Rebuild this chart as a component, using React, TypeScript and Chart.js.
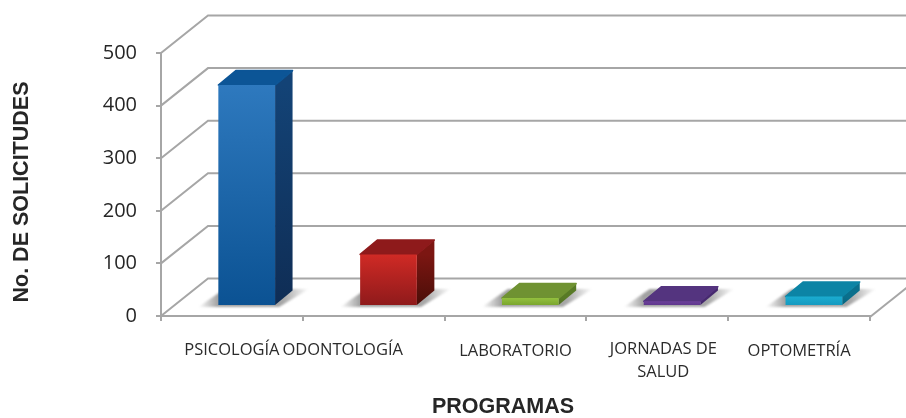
import React, { useEffect, useRef } from "react";
import { Chart, registerables } from "chart.js";

Chart.register(...registerables);

const categories: (string | string[])[] = ["PSICOLOGÍA", "ODONTOLOGÍA", "LABORATORIO", ["JORNADAS DE", "SALUD"], "OPTOMETRÍA"];
const solicitudes = [420, 98, 15, 9, 18];
const frontTop = ["#2e79be", "#d02a25", "#93c03e", "#6d419b", "#1bacd0"];
const frontBottom = ["#0b5293", "#8f1a1b", "#7ba62e", "#5f378d", "#159ac0"];
const topColors = ["#0c5596", "#8e1a1b", "#6f9232", "#54347f", "#0c84a5"];
const sideTop = ["#134376", "#7c1612", "#587a26", "#46296f", "#0a6f8c"];
const sideBottom = ["#0f2d55", "#4a0e08", "#4f6e20", "#402567", "#07647f"];

const xLabelShift = [0, -31, 0, 6, 0];
const xLabelDrop = [0, 0, 1, -1, 1];
const GRID = "#a6a6a6";
const WALL_DX = 47;
const WALL_DY = -37.5;
const BAR_DX = 14.8;
const BAR_DY = -10;
const DEPTH_DX = 17.5;
const DEPTH_DY = -14.5;
const FLOOR_TOP = 288;

const poly = (ctx: CanvasRenderingContext2D, pts: number[][], fill: string | CanvasGradient) => {
  ctx.beginPath();
  pts.forEach((p, i) => (i ? ctx.lineTo(p[0], p[1]) : ctx.moveTo(p[0], p[1])));
  ctx.closePath();
  ctx.fillStyle = fill;
  ctx.fill();
  if (typeof fill === "string") {
    ctx.strokeStyle = fill;
    ctx.lineWidth = 1.5;
    ctx.lineJoin = "round";
    ctx.stroke();
  }
};

const shiftTitle = (scale: any, dx: number, dy: number) => {
  if (scale.__shifted) return;
  scale.__shifted = true;
  const orig = scale.drawTitle.bind(scale);
  scale.drawTitle = (...args: any[]) => {
    const c = scale.ctx;
    c.save();
    c.translate(dx, dy);
    orig(...args);
    c.restore();
  };
};

const scene3d = {
  id: "scene3d",
  beforeDraw(chart: any) {
    const xs = chart.scales.x;
    shiftTitle(xs, -12.5, 2);
    shiftTitle(chart.scales.y, 9, 7.5);
    const items = xs.getLabelItems(chart.chartArea);
    items.forEach((it: any, i: number) => {
      if (it.__moved) return;
      it.__moved = true;
      it.options.translation[0] += xLabelShift[i];
      it.options.translation[1] += xLabelDrop[i];
    });
  },
  beforeDatasetsDraw(chart: any) {
    const { ctx, scales, width } = chart;
    const { x, y } = scales;
    ctx.save();
    ctx.strokeStyle = GRID;
    ctx.lineWidth = 2;
    y.ticks.forEach((t: any) => {
      const py = y.getPixelForValue(t.value);
      const bx = x.left + WALL_DX;
      const by = py + WALL_DY;
      ctx.beginPath();
      ctx.moveTo(x.left, py);
      ctx.lineTo(bx, by);
      ctx.lineTo(width, by);
      ctx.stroke();
    });
    const fy = y.getPixelForValue(0) + 1;
    ctx.beginPath();
    ctx.moveTo(x.right, fy);
    ctx.lineTo(x.right + WALL_DX, fy + WALL_DY);
    ctx.stroke();
    ctx.restore();
  },
  beforeDatasetDraw(chart: any, args: any) {
    const { ctx } = chart;
    const meta = chart.getDatasetMeta(args.index);
    ctx.save();
    meta.data.forEach((b: any, i: number) => {
      const half = b.width / 2;
      const l = b.x - half + BAR_DX;
      const r = b.x + half + BAR_DX;
      const bot = b.base + BAR_DY;
      const top = b.y + BAR_DY;
      // floor shadow
      const sg = ctx.createLinearGradient(l - 20, 0, r + 34, 0);
      const span = r + 34 - (l - 20);
      sg.addColorStop(0, "rgba(120,120,120,0)");
      sg.addColorStop(20 / span, "rgba(120,120,120,0.7)");
      sg.addColorStop((span - 26) / span, "rgba(120,120,120,0.65)");
      sg.addColorStop(1, "rgba(120,120,120,0)");
      ctx.save();
      ctx.filter = "blur(1.2px)";
      poly(ctx, [[l - 20, bot + 2], [r + 4, bot + 2], [r + 34, FLOOR_TOP + 1], [l + 6, FLOOR_TOP + 1]], sg);
      ctx.restore();
      // right side
      const sd = ctx.createLinearGradient(0, top, 0, bot);
      sd.addColorStop(0, sideTop[i]);
      sd.addColorStop(1, sideBottom[i]);
      poly(ctx, [[r, bot], [r, top], [r + DEPTH_DX, top + DEPTH_DY], [r + DEPTH_DX, bot + DEPTH_DY]], sd);
      // top
      poly(ctx, [[l, top], [l + DEPTH_DX, top + DEPTH_DY], [r + DEPTH_DX, top + DEPTH_DY], [r, top]], topColors[i]);
      // front face gradient: the bar element itself draws it
      const fg = ctx.createLinearGradient(0, b.y, 0, b.base);
      fg.addColorStop(0, frontTop[i]);
      fg.addColorStop(1, frontBottom[i]);
      b.options.backgroundColor = fg;
    });
    ctx.translate(BAR_DX, BAR_DY);
  },
  afterDatasetDraw(chart: any) {
    chart.ctx.restore();
  },
};

export default function App() {
  const ref = useRef<HTMLCanvasElement>(null);
  useEffect(() => {
    const chart = new Chart(ref.current!, {
      type: "bar",
      data: {
        labels: categories as any,
        datasets: [
          {
            label: "No. DE SOLICITUDES",
            data: solicitudes,
            barPercentage: 0.4,
            categoryPercentage: 1,
            clip: false as any,
            borderWidth: 0,
            backgroundColor: frontTop,
          },
        ],
      },
      plugins: [scene3d as any],
      options: {
        animation: false,
        responsive: false,
        layout: { padding: { top: 53, right: 36, left: 0, bottom: 0 } },
        plugins: { legend: { display: false }, tooltip: { enabled: false } },
        scales: {
          x: {
            afterFit: (s: any) => { s.height = 102; },
            grid: { offset: true, drawOnChartArea: false, color: GRID, lineWidth: 2, tickLength: 5 },
            border: { color: GRID, width: 2 },
            ticks: {
              autoSkip: false,
              maxRotation: 0,
              minRotation: 0,
              padding: 18,
              color: "#2b2b2b",
              font: { family: "'Open Sans'", size: 16.5, lineHeight: 1.38 },
            },
            title: {
              display: true,
              text: "PROGRAMAS",
              color: "#262626",
              font: { family: "'Liberation Sans'", size: 21.5, weight: "bold" },
              padding: { top: 4, bottom: 0 },
            },
          },
          y: {
            min: 0,
            max: 500,
            afterFit: (s: any) => { s.width = 161; },
            grid: { drawOnChartArea: false, color: GRID, lineWidth: 2, tickLength: 5 },
            border: { color: GRID, width: 2 },
            ticks: {
              stepSize: 100,
              padding: 19,
              color: "#262626",
              font: { family: "'Open Sans'", size: 20 },
            },
            title: {
              display: true,
              text: "No. DE SOLICITUDES",
              color: "#262626",
              font: { family: "'Liberation Sans'", size: 21.5, weight: "bold" },
              padding: { top: 0, bottom: 0 },
            },
          },
        },
      },
    } as any);
    return () => chart.destroy();
  }, []);
  return (
    <div style={{ position: "absolute", left: 0, top: 0, width: 906, height: 418, background: "#fff", overflow: "hidden" }}>
      <canvas ref={ref} width={906} height={418} style={{ display: "block", filter: "blur(0.35px)" }} />
    </div>
  );
}
